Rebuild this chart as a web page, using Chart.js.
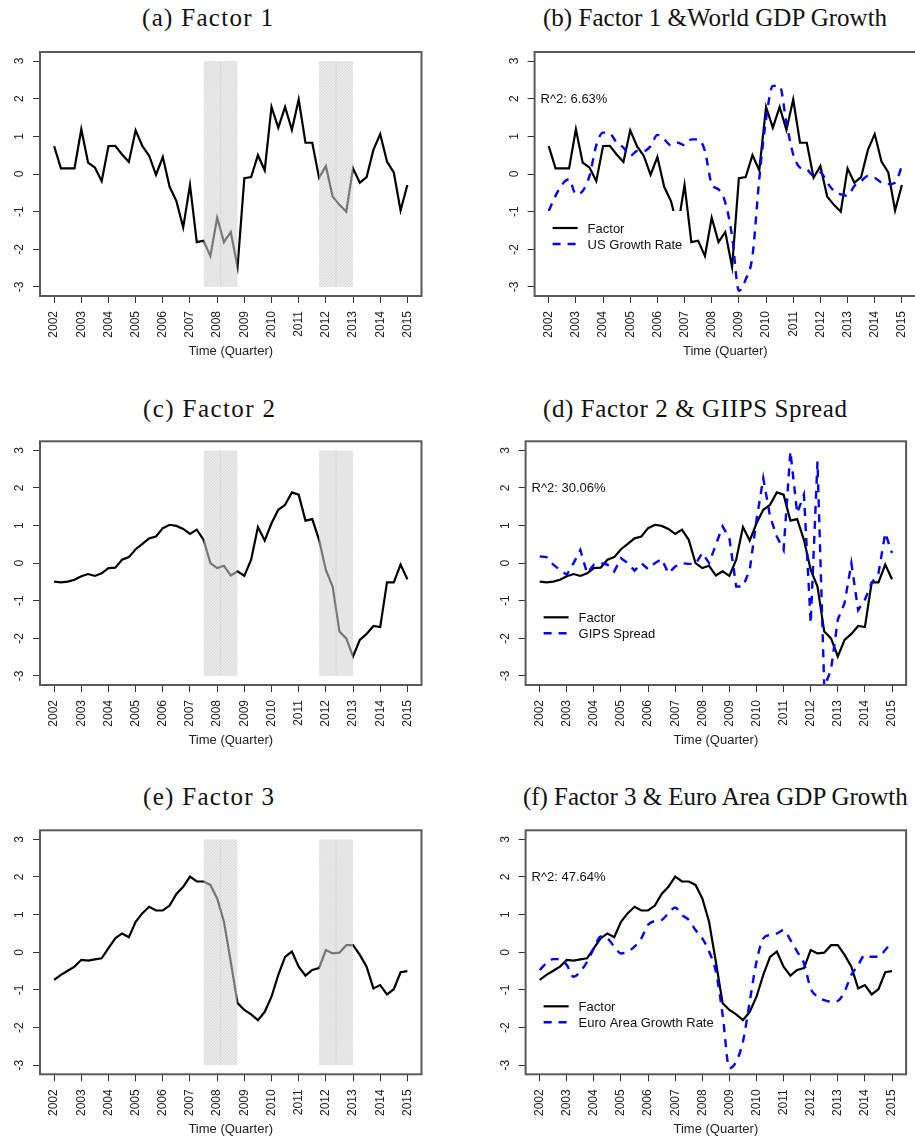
<!DOCTYPE html>
<html><head><meta charset="utf-8">
<script src="https://cdn.jsdelivr.net/npm/chart.js@4.4.1/dist/chart.umd.min.js"></script>
<style>
html,body{margin:0;padding:0;background:#fff;overflow:hidden;width:915px;height:1137px;}
#wrap{position:relative;width:915px;height:1137px;overflow:hidden;background:#fff;}
canvas{position:absolute;}
.ttl{position:absolute;font-family:"Liberation Serif","Times New Roman",serif;font-size:25px;line-height:25px;color:#111;white-space:nowrap;}
</style></head><body><div id="wrap"></div>
<script>
// ---------------- DATA ----------------
const quarters = [2002,2002.25,2002.5,2002.75,2003,2003.25,2003.5,2003.75,2004,2004.25,2004.5,2004.75,
  2005,2005.25,2005.5,2005.75,2006,2006.25,2006.5,2006.75,2007,2007.25,2007.5,2007.75,
  2008,2008.25,2008.5,2008.75,2009,2009.25,2009.5,2009.75,2010,2010.25,2010.5,2010.75,
  2011,2011.25,2011.5,2011.75,2012,2012.25,2012.5,2012.75,2013,2013.25,2013.5,2013.75,
  2014,2014.25,2014.5,2014.75,2015];

const factor1 = [0.74,0.15,0.15,0.15, 1.19,0.30,0.17,-0.19, 0.74,0.75,0.52,0.32, 1.16,0.74,0.48,-0.02,
  0.45,-0.34,-0.72,-1.42, -0.29,-1.81,-1.77,-2.18, -1.16,-1.81,-1.54,-2.47, -0.11,-0.08,0.50,0.10,
  1.78,1.23,1.78,1.17, 1.98,0.83,0.83,-0.10, 0.21,-0.60,-0.82,-1.00, 0.15,-0.23,-0.08,0.64,
  1.06,0.33,0.04,-0.97, -0.29];

const usGrowth = [-0.98,-0.58,-0.27,-0.14, -0.54,-0.45,-0.05,0.76, 1.10,1.08,0.83,0.70, 0.48,0.61,0.61,0.74,
  1.04,0.92,0.76,0.83, 0.76,0.92,0.92,0.61, -0.27,-0.41,-0.76,-1.65, -3.10,-2.80,-2.18,-0.14,
  1.45,2.34,2.34,1.36, 0.52,0.17,0.12,-0.05, 0.04,-0.23,-0.45,-0.54, -0.58,-0.32,-0.19,-0.05,
  -0.10,-0.23,-0.27,-0.23, 0.21];

const factor2 = [-0.49,-0.51,-0.49,-0.44, -0.35,-0.29,-0.34,-0.27, -0.13,-0.12,0.09,0.16, 0.37,0.51,0.66,0.71,
  0.93,1.02,0.99,0.91, 0.78,0.89,0.62,0.00, -0.13,-0.07,-0.33,-0.22, -0.34,0.09,0.96,0.60,
  1.06,1.42,1.55,1.88, 1.82,1.13,1.17,0.62, -0.18,-0.62,-1.82,-2.00, -2.48,-2.04,-1.88,-1.67,
  -1.70,-0.51,-0.51,-0.04, -0.43];

const gipsSpread = [0.18,0.16,-0.04,-0.18, -0.31,0.00,0.35,-0.27, -0.04,0.00,-0.04,-0.22, 0.13,0.00,-0.20,0.00,
  -0.16,0.00,0.11,-0.27, -0.09,0.00,-0.02,-0.02, 0.27,0.00,0.49,0.98, 0.66,-0.62,-0.62,-0.18,
  1.15,2.26,1.24,0.71, 0.35,2.97,1.33,1.82, -1.60,2.70,-3.30,-2.83, -1.50,-1.06,0.00,-1.25,
  -0.97,-0.53,-0.27,0.80, 0.27];

const factor3 = [-0.73,-0.60,-0.49,-0.38, -0.20,-0.22,-0.19,-0.16, 0.11,0.37,0.50,0.40, 0.81,1.04,1.21,1.11,
  1.11,1.24,1.55,1.74, 2.01,1.88,1.88,1.79, 1.43,0.81,-0.25,-1.35, -1.53,-1.65,-1.80,-1.58,
  -1.18,-0.60,-0.12,0.02, -0.38,-0.62,-0.47,-0.42, 0.06,-0.03,-0.01,0.19, 0.19,-0.07,-0.38,-0.96,
  -0.87,-1.12,-0.98,-0.53, -0.50];

const euroGrowth = [-0.47,-0.29,-0.18,-0.18, -0.34,-0.65,-0.51,-0.25, 0.11,0.42,0.37,0.15, -0.03,0.02,0.15,0.37,
  0.73,0.83,0.86,1.04, 1.19,0.99,0.86,0.59, 0.37,0.02,-0.51,-1.66, -3.08,-2.90,-2.37,-1.31,
  -0.25,0.37,0.46,0.50, 0.59,0.33,0.02,-0.29, -0.96,-1.18,-1.27,-1.31, -1.29,-1.04,-0.60,-0.34,
  -0.07,-0.12,-0.12,0.06, 0.28];

const yTicks = [-3,-2,-1,0,1,2,3];
const xTicks = [2002,2003,2004,2005,2006,2007,2008,2009,2010,2011,2012,2013,2014,2015];
const bandStart = [2007.5, 2011.75];
const bandEnd = [2008.75, 2013.0];
const bandLow = -3, bandHigh = 3;

const titles = ["(a) Factor 1", "(b) Factor 1 &World GDP Growth", "(c) Factor 2",
  "(d) Factor 2 & GIIPS Spread", "(e) Factor 3", "(f) Factor 3 & Euro Area GDP Growth"];
const r2Labels = ["R^2: 6.63%", "R^2: 30.06%", "R^2: 47.64%"];
const xTitle = "Time (Quarter)";
const factorLabel = "Factor";
const compareLabels = ["US Growth Rate", "GIPS Spread", "Euro Area Growth Rate"];

// ---------------- LAYOUT ----------------
const panels = [
  {area:{L:40,T:52,R:421.5,B:296},      canvas:{x:0,y:32,w:440,h:327},   title:{x:142,y:5,w:131},   factor:factor1, bands:true},
  {area:{L:534.6,T:52,R:916,B:296},     canvas:{x:490,y:32,w:440,h:327}, title:{x:543,y:5,w:345},   factor:factor1, comp:usGrowth, compLabel:compareLabels[0], r2:r2Labels[0], smooth:true},
  {area:{L:40,T:441.3,R:421.5,B:685},   canvas:{x:0,y:421,w:440,h:327},  title:{x:143,y:396,w:132}, factor:factor2, bands:true},
  {area:{L:525.6,T:441.3,R:906.1,B:685},canvas:{x:490,y:421,w:440,h:327},title:{x:543,y:396,w:304}, factor:factor2, comp:gipsSpread, compLabel:compareLabels[1], r2:r2Labels[1], smooth:false},
  {area:{L:40,T:830.3,R:421.5,B:1074.3},canvas:{x:0,y:810,w:440,h:327},  title:{x:143,y:784,w:131}, factor:factor3, bands:true},
  {area:{L:525.6,T:830.3,R:906.1,B:1074.3},canvas:{x:490,y:810,w:440,h:327},title:{x:523,y:784,w:387}, factor:factor3, comp:euroGrowth, compLabel:compareLabels[2], r2:r2Labels[2], smooth:true}
];

const SANS = '"Liberation Sans", Arial, sans-serif';
Chart.defaults.font.family = SANS;
Chart.defaults.color = '#222';

const deco = {
  id: 'deco',
  afterDatasetsDraw(chart, args, o) {
    const ctx = chart.ctx, xs = chart.scales.x, ys = chart.scales.y, ca = chart.chartArea;
    if (o.bands) {
      for (let i = 0; i < bandStart.length; i++) {
        const x0 = xs.getPixelForValue(bandStart[i]), x1 = xs.getPixelForValue(bandEnd[i]);
        const y0 = ys.getPixelForValue(bandHigh), y1 = ys.getPixelForValue(bandLow);
        const w = x1 - x0, h = y1 - y0;
        ctx.save();
        ctx.beginPath(); ctx.rect(x0, y0, w, h); ctx.clip();
        ctx.fillStyle = 'rgba(220,220,220,0.5)';
        ctx.fillRect(x0, y0, w, h);
        ctx.strokeStyle = 'rgba(175,175,175,0.38)';
        ctx.lineWidth = 1;
        ctx.beginPath();
        for (let k = -h; k < w + h; k += 3) {
          ctx.moveTo(x0 + k, y1); ctx.lineTo(x0 + k + h, y0);
        }
        ctx.stroke();
        const xm = xs.getPixelForValue((bandStart[i] + bandEnd[i]) / 2);
        ctx.strokeStyle = 'rgba(185,185,185,0.3)';
        ctx.beginPath(); ctx.moveTo(xm, y0); ctx.lineTo(xm, y1); ctx.stroke();
        ctx.restore();
      }
    }
    if (o.legend) {
      const ds = chart.data.datasets;
      ctx.save();
      ctx.font = '13px ' + SANS;
      const tx = ca.left + 53;
      const wmax = Math.max(ctx.measureText(ds[0].label).width, ctx.measureText(ds[1].label).width);
      ctx.fillStyle = '#fff';
      ctx.fillRect(ca.left + 8, ca.top + 159, tx + wmax + 4 - (ca.left + 8), 46);
      const rows = [ca.top + 176, ca.top + 192];
      ds.forEach((d, i) => {
        ctx.strokeStyle = d.borderColor; ctx.lineWidth = d.borderWidth;
        ctx.setLineDash(d.borderDash || []);
        ctx.beginPath(); ctx.moveTo(ca.left + 18, rows[i]); ctx.lineTo(ca.left + 43, rows[i]); ctx.stroke();
        ctx.setLineDash([]);
        ctx.fillStyle = '#111'; ctx.textBaseline = 'middle'; ctx.textAlign = 'left';
        ctx.fillText(d.label, tx, rows[i] + 1);
      });
      ctx.restore();
    }
  },
  afterDraw(chart, args, o) {
    const ctx = chart.ctx, ys = chart.scales.y, ca = chart.chartArea;
    ctx.save();
    ctx.strokeStyle = '#5a5a5a'; ctx.lineWidth = 2;
    ctx.strokeRect(ca.left, ca.top, ca.right - ca.left, ca.bottom - ca.top);
    ctx.fillStyle = '#222';
    ctx.font = '12px ' + SANS;
    ctx.textAlign = 'center'; ctx.textBaseline = 'alphabetic';
    ys.ticks.forEach(t => {
      const py = ys.getPixelForValue(t.value);
      ctx.save(); ctx.translate(ca.left - 17, py); ctx.rotate(-Math.PI / 2);
      ctx.fillText(String(t.value), 0, 0); ctx.restore();
    });
    if (o.r2) {
      ctx.font = '13px ' + SANS; ctx.textAlign = 'left'; ctx.textBaseline = 'middle'; ctx.fillStyle = '#111';
      ctx.fillText(o.r2, ca.left + 6, ca.top + 47);
    }
    ctx.restore();
  }
};
Chart.register(deco);

const wrap = document.getElementById('wrap');
const mctx = document.createElement('canvas').getContext('2d');
mctx.font = '25px "Liberation Serif"';

panels.forEach((p, idx) => {
  const d = document.createElement('div');
  d.className = 'ttl';
  d.textContent = titles[idx];
  const nat = mctx.measureText(titles[idx]).width;
  const ls = (p.title.w - nat) / (titles[idx].length - 1);
  d.style.letterSpacing = ls.toFixed(2) + 'px';
  d.style.left = p.title.x + 'px'; d.style.top = p.title.y + 'px';
  wrap.appendChild(d);

  const cv = document.createElement('canvas');
  cv.width = p.canvas.w; cv.height = p.canvas.h;
  cv.style.left = p.canvas.x + 'px'; cv.style.top = p.canvas.y + 'px';
  cv.style.width = p.canvas.w + 'px'; cv.style.height = p.canvas.h + 'px';
  wrap.appendChild(cv);

  const datasets = [{
    label: factorLabel, data: quarters.map((q, i) => ({x: q, y: p.factor[i]})),
    borderColor: '#000', borderWidth: 2.2, pointRadius: 0, tension: 0, fill: false, order: 1
  }];
  if (p.comp) {
    datasets.push({
      label: p.compLabel, data: quarters.map((q, i) => ({x: q, y: p.comp[i]})),
      borderColor: '#0000ff', borderWidth: 2.4, borderDash: [8, 7], pointRadius: 0, fill: false,
      tension: p.smooth ? 0.4 : 0, cubicInterpolationMode: p.smooth ? 'monotone' : 'default', order: 0
    });
  }
  const gridOpt = {display: true, drawOnChartArea: false, drawTicks: true, tickLength: 7, color: '#333', lineWidth: 1};
  new Chart(cv, {
    type: 'line',
    data: {datasets},
    options: {
      responsive: false, animation: false, devicePixelRatio: 1,
      layout: {padding: {left: 0, bottom: 0, top: p.area.T - p.canvas.y, right: p.canvas.x + p.canvas.w - p.area.R}},
      plugins: {legend: {display: false}, tooltip: {enabled: false},
        deco: {bands: !!p.bands, legend: !!p.comp, r2: p.r2 || null}},
      scales: {
        x: {
          type: 'linear', min: 2001.48, max: 2015.52, bounds: 'data',
          afterBuildTicks: s => { s.ticks = xTicks.map(v => ({value: v})); },
          afterFit: s => { s.height = p.canvas.y + p.canvas.h - p.area.B; },
          ticks: {autoSkip: false, minRotation: 90, maxRotation: 90, padding: 8, color: '#222',
            font: {size: 12}, callback: v => String(v)},
          grid: gridOpt, border: {display: false},
          title: {display: true, text: xTitle, color: '#222', font: {size: 13}, padding: 0}
        },
        y: {
          type: 'linear', min: -3.24, max: 3.24, bounds: 'data',
          afterBuildTicks: s => { s.ticks = yTicks.map(v => ({value: v})); },
          afterFit: s => { s.width = p.area.L - p.canvas.x; },
          ticks: {color: 'rgba(0,0,0,0)', font: {size: 12}, autoSkip: false},
          grid: gridOpt, border: {display: false}
        }
      }
    }
  });
});
</script></body></html>
